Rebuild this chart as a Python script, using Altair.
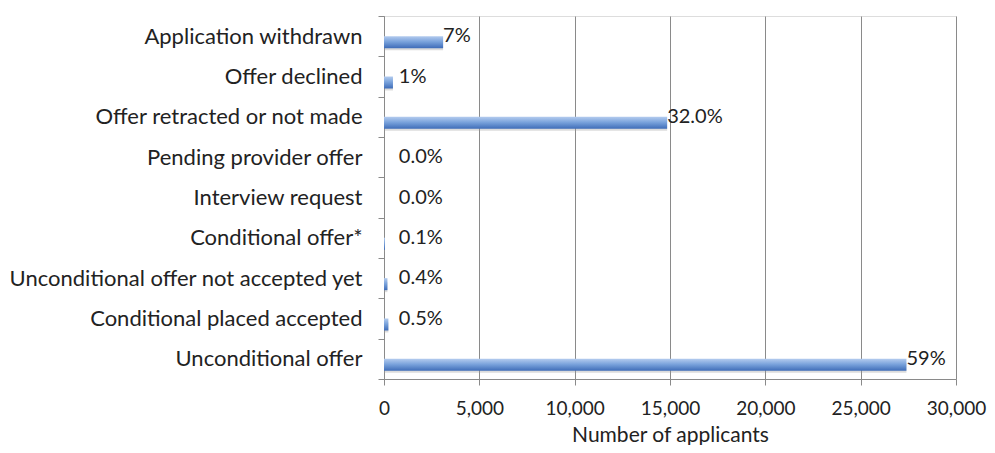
import altair as alt
import pandas as pd

categories = [
    "Application withdrawn",
    "Offer declined",
    "Offer retracted or not made",
    "Pending provider offer",
    "Interview request",
    "Conditional offer*",
    "Unconditional offer not accepted yet",
    "Conditional placed accepted",
    "Unconditional offer",
]
values = [3100, 470, 14850, 0, 0, 50, 180, 230, 27400]
labels = ["7%", "1%", "32.0%", "0.0%", "0.0%", "0.1%", "0.4%", "0.5%", "59%"]
x_ticks = [0, 5000, 10000, 15000, 20000, 25000, 30000]

df = pd.DataFrame({"category": categories, "value": values, "label": labels})

FONT = "Lato"
TEXT = "#222222"
GRID = "#8a8a8a"

y_enc = alt.Y(
    "category:N",
    sort=categories,
    scale=alt.Scale(paddingInner=0, paddingOuter=0),
    axis=alt.Axis(
        title=None,
        tickBand="extent",
        tickSize=6,
        tickColor=GRID,
        domainColor=GRID,
        labelPadding=16,
        labelFont=FONT,
        labelFontSize=22,
        labelColor=TEXT,
        labelLimit=500,
        grid=False,
    ),
)
x_enc = alt.X(
    "value:Q",
    scale=alt.Scale(domain=[0, 30000], nice=False),
    axis=alt.Axis(
        title="Number of applicants",
        values=x_ticks,
        format=",.0f",
        labelFlush=False,
        labelOverlap=False,
        tickSize=6,
        tickColor=GRID,
        domainColor=GRID,
        gridColor=GRID,
        gridOpacity=1,
        labelPadding=14,
        labelFont=FONT,
        labelFontSize=19,
        labelColor=TEXT,
        titleFont=FONT,
        titleFontSize=21,
        titleFontWeight="normal",
        titleColor=TEXT,
        titleBaseline="alphabetic",
        titleY=62,
    ),
)

gradient = alt.Gradient(
    gradient="linear",
    stops=[
        alt.GradientStop(offset=0, color="#b3cbee"),
        alt.GradientStop(offset=0.45, color="#7aa3dc"),
        alt.GradientStop(offset=1, color="#3e6cb8"),
    ],
    x1=0, x2=0, y1=0, y2=1,
)

base = alt.Chart(df)

shadow = base.mark_bar(size=10, yOffset=9, color="#9a9a9a", opacity=0.35).encode(
    x=x_enc, y=y_enc
)
bars = base.mark_bar(size=12, yOffset=6, color=gradient).encode(x=x_enc, y=y_enc)
text = (
    base.transform_calculate(lx="max(datum.value, 780)")
    .mark_text(align="left", baseline="middle", font=FONT, fontSize=20, color=TEXT)
    .encode(x=alt.X("lx:Q"), y=alt.Y("category:N", sort=categories), text="label:N")
)

chart = (
    alt.layer(shadow, bars, text)
    .properties(
        width=572,
        height=363,
        autosize=alt.AutoSizeParams(type="none"),
        padding={"left": 376, "top": 8, "right": 31, "bottom": 66},
    )
    .configure_view(stroke=None)
    .configure(background="white")
)

chart.save("out.html", embed_options={"renderer": "svg", "actions": False})
